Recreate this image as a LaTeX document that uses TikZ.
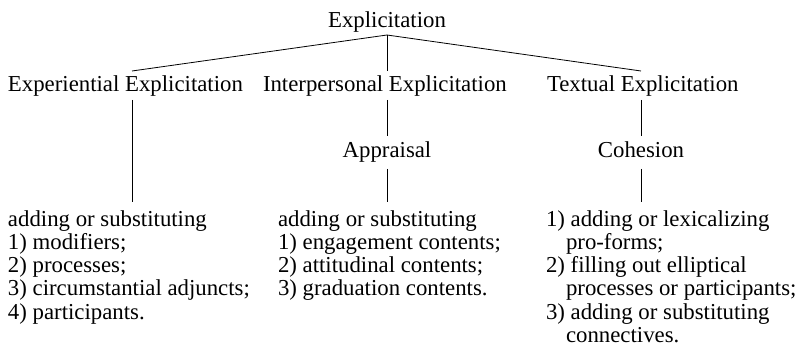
\documentclass[tikz,border=0pt]{standalone}
\usepackage{fontspec}
\setmainfont{Liberation Serif}
\begin{document}
\begin{tikzpicture}[x=1pt,y=-1pt,
  lbl/.style={inner sep=0pt,outer sep=0pt,font=\fontsize{22.8}{23.3}\selectfont},
  lst/.style={lbl,align=left,anchor=base west},
  edge/.style={line width=0.8pt,black}]
\useasboundingbox (0,0) rectangle (805,363);
% top
\node[lbl,anchor=base] (root) at (387,28) {Explicitation};
\coordinate (rt) at (387,35);
% second level
\node[lbl,anchor=base west] (exp) at (8,92) {Experiential Explicitation};
\node[lbl,anchor=base west] (int) at (263,92) {Interpersonal Explicitation};
\node[lbl,anchor=base west] (tex) at (547,92) {Textual Explicitation};
\coordinate (expT) at (132,71);
\coordinate (intT) at (387,71);
\coordinate (texT) at (641,71);
\draw[edge] (rt) -- (expT);
\draw[edge] (rt) -- (intT);
\draw[edge] (rt) -- (texT);
% third level
\node[lbl,anchor=base] (app) at (387,158) {Appraisal};
\node[lbl,anchor=base] (coh) at (641,158) {Cohesion};
\coordinate (expB) at (132,100);
\coordinate (intB) at (387,100);
\coordinate (texB) at (641,100);
\coordinate (appT) at (387,136);
\coordinate (cohT) at (641,136);
\coordinate (appB) at (387,169);
\coordinate (cohB) at (641,169);
\coordinate (l1T) at (132,202);
\coordinate (l2T) at (387,202);
\coordinate (l3T) at (641,202);
\draw[edge] (expB) -- (l1T);
\draw[edge] (intB) -- (appT);
\draw[edge] (appB) -- (l2T);
\draw[edge] (texB) -- (cohT);
\draw[edge] (cohB) -- (l3T);
% lists (anchored at the baseline of their last line)
\node[lst] (list1) at (8,319.2) {adding or substituting\\1) modifiers;\\2) processes;\\3) circumstantial adjuncts;\\4) participants.};
\node[lst] (list2) at (278,295.9) {adding or substituting\\1) engagement contents;\\2) attitudinal contents;\\3) graduation contents.};
\node[lst] (list3) at (546,342.5) {1) adding or lexicalizing\\\hspace*{20pt}pro-forms;\\2) filling out elliptical\\\hspace*{20pt}processes or participants;\\3) adding or substituting\\\hspace*{20pt}connectives.};
\end{tikzpicture}
\end{document}
